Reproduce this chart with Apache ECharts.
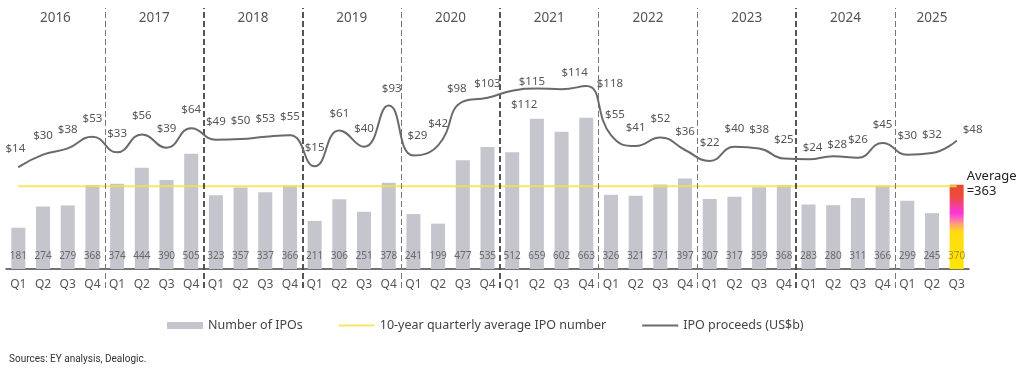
<!DOCTYPE html>
<html>
<head>
<meta charset="utf-8">
<script src="https://cdn.jsdelivr.net/npm/echarts@6/dist/echarts.min.js"></script>
<style>
  html, body { margin: 0; padding: 0; background: #fff; }
  #chart { width: 1024px; height: 368px; }
</style>
</head>
<body>
<div id="chart"></div>
<script>
// ---------- data ----------
const years = ['2016','2017','2018','2019','2020','2021','2022','2023','2024','2025'];
const quartersPerYear = [4,4,4,4,4,4,4,4,4,3];
const quarterNames = ['Q1','Q2','Q3','Q4'];
const numberOfIPOs = [181,274,279,368, 374,444,390,505, 323,357,337,366, 211,306,251,378,
                      241,199,477,535, 512,659,602,663, 326,321,371,397, 307,317,359,368,
                      283,280,311,366, 299,245,370];
const ipoProceeds = [14,30,38,53, 33,56,39,64, 49,50,53,55, 15,61,40,93,
                     29,42,98,103, 112,115,114,118, 55,41,52,36, 22,40,38,25,
                     24,28,26,45, 30,32,48];
const quarterlyAverage = 363;

// ---------- derived categories ----------
const categories = [];
const quarterLabels = [];
const yearCenters = [];
const yearBoundaries = [];
let idx = 0;
years.forEach((y, i) => {
  const start = idx;
  for (let q = 0; q < quartersPerYear[i]; q++) {
    categories.push(y + quarterNames[q]);
    quarterLabels.push(quarterNames[q]);
    idx++;
  }
  yearCenters.push((start + idx - 1) / 2);
  if (i > 0) yearBoundaries.push(start - 0.5);
});
const averageLine = categories.map(() => quarterlyAverage);

// ---------- styles ----------
const FONT = '"Noto Sans", sans-serif';
const darkDividers = {'2018': true, '2019': true, '2021': true, '2024': true};
const labelTweaks = {
  13: {distance: 10.5},
  15: {distance: 10.5},
  16: {distance: 13.5},
  17: {distance: 15.5},
  18: {distance: 6.5},
  19: {distance: 7.5},
  20: {position: 'bottom', distance: 7.5},
  21: {distance: 0},
  22: {distance: 9.5},
  23: {position: 'right', distance: 10},
  24: {distance: 13.5},
  32: {distance: 5.5},
  33: {distance: 4.5},
  38: {distance: 4.5}
};
const labelShift = {
  0: [-3, 0], 15: [3, 0], 16: [4, 0], 18: [-6, 0], 20: [12, 0], 21: [-5, 0],
  22: [13, 0], 23: [0, -2], 24: [4, 0], 32: [4, 0], 33: [4, 0], 38: [16, 0]
};

const barData = numberOfIPOs.map((v, i) => {
  if (i === numberOfIPOs.length - 1) {
    return {
      value: v,
      itemStyle: {
        color: new echarts.graphic.LinearGradient(0, 0, 0, 1, [
          {offset: 0, color: '#e64c26'},
          {offset: 0.14, color: '#ec4a3c'},
          {offset: 0.34, color: '#fb36e2'},
          {offset: 0.46, color: '#ff9a80'},
          {offset: 0.56, color: '#ffdc12'},
          {offset: 1, color: '#ffe500'}
        ])
      },
      label: {color: '#a8902a'}
    };
  }
  return v;
});

const lineData = ipoProceeds.map((v, i) => {
  const t = labelTweaks[i];
  return t ? {value: v, label: t} : v;
});

const chart = echarts.init(document.getElementById('chart'), null, {renderer: 'canvas'});
chart.setOption({
  animation: false,
  backgroundColor: '#fff',
  textStyle: {fontFamily: FONT},
  title: {
    text: 'Sources: EY analysis, Dealogic.',
    left: 4, top: 349,
    textStyle: {fontSize: 10, fontWeight: 'normal', color: '#333', fontFamily: 'Roboto, sans-serif'}
  },
  legend: {
    left: 162, top: 314,
    itemWidth: 36, itemHeight: 7, itemGap: 35,
    textStyle: {fontSize: 12.5, color: '#444', fontFamily: FONT},
    data: [
      {name: 'Number of IPOs', icon: 'rect'},
      {name: '10-year quarterly average IPO number', itemStyle: {opacity: 0}},
      {name: 'IPO proceeds (US$b)', itemStyle: {opacity: 0}}
    ]
  },
  grid: [
    {left: 6, right: 55, top: 41, bottom: 99},
    {left: 6, right: 55, top: 8, bottom: 80}
  ],
  xAxis: [
    {
      type: 'category', gridIndex: 0, data: categories,
      axisLine: {lineStyle: {color: '#444', width: 1.5}},
      axisTick: {show: false},
      axisLabel: {
        interval: 0, margin: 10, fontSize: 12, color: '#555',
        formatter: (v, i) => quarterLabels[i]
      }
    },
    {
      type: 'value', gridIndex: 1, min: -0.5, max: 38.5, position: 'top',
      axisLine: {show: false}, axisTick: {show: false}, splitLine: {show: false},
      axisLabel: {
        inside: true, margin: 3, fontSize: 13.5, color: '#555',
        customValues: yearCenters,
        formatter: (v) => {
          const k = yearCenters.findIndex(c => Math.abs(c - v) < 1e-6);
          return k >= 0 ? years[k] : '';
        }
      }
    }
  ],
  yAxis: [
    {type: 'value', gridIndex: 0, min: 0, max: 1000, show: false},
    {type: 'value', gridIndex: 0, min: -116.8, max: 175.9, show: false},
    {type: 'value', gridIndex: 1, min: 0, max: 1, show: false}
  ],
  series: [
    {
      name: 'Number of IPOs', type: 'bar', xAxisIndex: 0, yAxisIndex: 0,
      data: barData, barWidth: 14,
      itemStyle: {color: '#c4c5cd'},
      label: {
        show: true, position: 'insideBottom', distance: 8,
        fontSize: 10, color: '#6a6a6a'
      },
      z: 2
    },
    {
      name: '10-year quarterly average IPO number', type: 'line', xAxisIndex: 0, yAxisIndex: 0,
      data: averageLine, symbol: 'none',
      lineStyle: {color: '#f2e44a', width: 2, opacity: 0.85},
      itemStyle: {color: '#f2e44a'},
      endLabel: {
        show: true, formatter: 'Average\n=' + quarterlyAverage,
        fontSize: 13, lineHeight: 15, color: '#222', distance: 10, offset: [0, -2],
        align: 'left'
      },
      z: 4
    },
    {
      name: 'IPO proceeds (US$b)', type: 'line', xAxisIndex: 0, yAxisIndex: 1,
      data: lineData, smooth: 0.5, symbol: 'circle', symbolSize: 1, showSymbol: true,
      lineStyle: {color: '#6a6a6a', width: 2},
      itemStyle: {color: '#6a6a6a'},
      label: {
        show: true, position: 'top', distance: 12,
        fontSize: 11.5, color: '#555', formatter: (p) => '$' + p.value
      },
      labelLayout: (p) => {
        const s = labelShift[p.dataIndex];
        return s ? {hideOverlap: false, dx: s[0], dy: s[1]} : {hideOverlap: false};
      },
      z: 5
    },
    {
      name: 'dividers', type: 'line', xAxisIndex: 1, yAxisIndex: 2,
      data: [], silent: true,
      markLine: {
        silent: true, symbol: ['none', 'none'], label: {show: false},
        animation: false,
        data: yearBoundaries.map((b, i) => {
          const dark = darkDividers[years[i + 1]];
          return {
            xAxis: b,
            lineStyle: {
              type: [6, 3], color: dark ? '#444' : '#777', width: dark ? 1.8 : 1
            }
          };
        })
      },
      z: 6
    }
  ]
});
</script>
</body>
</html>
